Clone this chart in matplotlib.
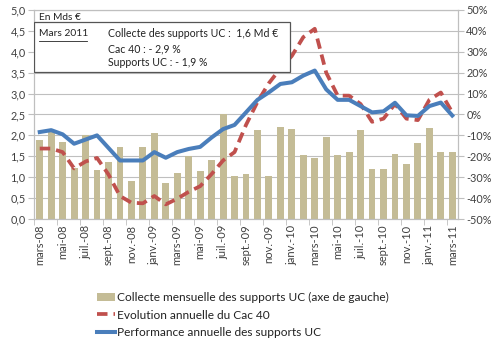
import matplotlib
matplotlib.use("Agg")
import matplotlib.pyplot as plt
import numpy as np
from matplotlib.patches import Rectangle
from matplotlib.lines import Line2D

plt.rcParams['font.family'] = ['Lato', 'DejaVu Sans']

months = ["mars-08", "avr.-08", "mai-08", "juin-08", "juil.-08", "août-08", "sept.-08", "oct.-08",
          "nov.-08", "déc.-08", "janv.-09", "févr.-09", "mars-09", "avr.-09", "mai-09", "juin-09",
          "juil.-09", "août-09", "sept.-09", "oct.-09", "nov.-09", "déc.-09", "janv.-10", "févr.-10",
          "mars-10", "avr.-10", "mai-10", "juin-10", "juil.-10", "août-10", "sept.-10", "oct.-10",
          "nov.-10", "déc.-10", "janv.-11", "févr.-11", "mars-11"]

collecte = [1.89, 2.07, 1.84, 1.23, 2.00, 1.17, 1.36, 1.73, 0.90, 1.73, 2.05, 0.87, 1.10,
            1.51, 1.14, 1.41, 2.50, 1.04, 1.07, 2.14, 1.04, 2.21, 2.16, 1.52, 1.46, 1.95,
            1.52, 1.61, 2.12, 1.20, 1.20, 1.56, 1.32, 1.81, 2.17, 1.61, 1.60]

cac40 = [-16.3, -16.3, -18.0, -25.8, -22.5, -20.8, -28.7, -39.0, -42.2, -42.5, -39.0, -43.0,
         -40.3, -37.0, -34.3, -28.5, -22.0, -18.0, -5.0, 6.0, 15.0, 22.0, 28.0, 37.0, 41.0,
         20.0, 9.0, 9.0, 5.0, -3.5, -2.0, 5.0, -2.0, -2.7, 7.0, 10.5, 1.0]

supports_uc = [-8.4, -7.5, -9.5, -14.0, -12.0, -10.0, -16.0, -22.0, -22.0, -22.0, -18.0, -20.7,
               -18.0, -16.5, -15.5, -11.0, -7.0, -5.0, 1.0, 7.0, 10.6, 14.6, 15.4, 18.6, 21.0,
               12.0, 7.0, 7.0, 4.0, 1.0, 1.5, 5.6, -0.4, -0.7, 4.0, 5.7, -0.5]

left_ticks = [0.0, 0.5, 1.0, 1.5, 2.0, 2.5, 3.0, 3.5, 4.0, 4.5, 5.0]
right_ticks = [-50, -40, -30, -20, -10, 0, 10, 20, 30, 40, 50]

bar_color = "#C4BC96"
red = "#C0504D"
blue = "#4A7EBB"
grid_color = "#BFBFBF"
text_color = "#404040"

fig = plt.figure(figsize=(5.0, 3.43), dpi=100)
ax = fig.add_axes([0.068, 0.3615, 0.848, 0.6095])
x = np.arange(len(months))

ax.bar(x, collecte, width=0.6, color=bar_color, zorder=2)
ax.set_xlim(-0.5, len(months) - 0.5)
ax.set_ylim(0, 5)
ax.set_yticks(left_ticks)
ax.set_yticklabels([f"{v:.1f}".replace(".", ",") for v in left_ticks])
ax.grid(axis='y', color=grid_color, linewidth=0.8, zorder=0)
ax.set_axisbelow(True)
ax.set_xticks(x[::2])
ax.set_xticklabels(months[::2], rotation=90)
ax.set_xticks(np.arange(-0.5, len(months), 2), minor=True)
ax.tick_params(axis='x', which='major', length=0, labelsize=8, colors=text_color, pad=4)
ax.tick_params(axis='x', which='minor', length=4, color=grid_color)
ax.tick_params(axis='y', length=4, color=grid_color, labelsize=7.8, labelcolor=text_color, pad=2)
for s in ax.spines.values():
    s.set_color(grid_color)

ax2 = ax.twinx()
ax2.set_ylim(-50, 50)
ax2.set_yticks(right_ticks)
ax2.set_yticklabels([f"{v}%" for v in right_ticks])
ax2.tick_params(axis='y', length=4, color=grid_color, labelsize=7.8, labelcolor=text_color, pad=2)
for s in ax2.spines.values():
    s.set_color(grid_color)
ax2.plot(x, cac40, color=red, linewidth=2.7, dashes=(2.8, 1.6), zorder=3)
ax2.plot(x, supports_uc, color=blue, linewidth=2.9, zorder=4, solid_joinstyle='round')

# annotation box
ax2.text(0.012, 0.965, "En Mds €", transform=ax2.transAxes, fontsize=7.3, color="#222222",
         va='center', ha='left', zorder=6)
box = Rectangle((0.0, 0.705), 0.603, 0.235, transform=ax2.transAxes, facecolor='white',
                edgecolor='#555555', linewidth=0.9, zorder=5)
ax2.add_patch(box)
ax2.text(0.012, 0.885, "Mars 2011", transform=ax2.transAxes, fontsize=7.4, color="#222222",
         va='center', ha='left', zorder=6)
ax2.plot([0.012, 0.124], [0.853, 0.853], transform=ax2.transAxes, color="#222222",
         linewidth=0.6, zorder=6)
ax2.text(0.175, 0.885, "Collecte des supports UC :  1,6 Md €", transform=ax2.transAxes,
         fontsize=7.6, color="#222222", va='center', ha='left', zorder=6)
ax2.text(0.175, 0.815, "Cac 40 : - 2,9 %", transform=ax2.transAxes,
         fontsize=7.6, color="#222222", va='center', ha='left', zorder=6)
ax2.text(0.175, 0.748, "Supports UC : - 1,9 %", transform=ax2.transAxes,
         fontsize=7.6, color="#222222", va='center', ha='left', zorder=6)

handles = [Rectangle((0, 0), 1, 1, facecolor=bar_color, edgecolor='none'),
           Line2D([], [], color=red, linewidth=2.7, dashes=(2.8, 1.6)),
           Line2D([], [], color=blue, linewidth=2.9)]
labels = ["Collecte mensuelle des supports UC (axe de gauche)",
          "Evolution annuelle du Cac 40",
          "Performance annuelle des supports UC"]
fig.legend(handles, labels, loc='upper left', bbox_to_anchor=(0.182, 0.166),
           frameon=False, fontsize=8.6, handlelength=1.5, handletextpad=0.15,
           labelspacing=0.55, borderpad=0, labelcolor="#222222")

fig.savefig("out.png", dpi=100)
